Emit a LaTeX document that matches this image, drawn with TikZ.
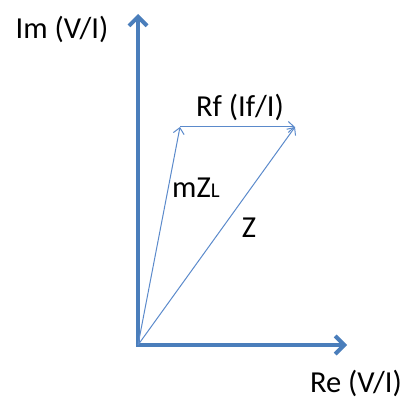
\documentclass[tikz,border=0pt]{standalone}
\usepackage{fontspec}
\setmainfont{Carlito}
\usetikzlibrary{arrows.meta}
\definecolor{axblue}{HTML}{4A7EBB}
\definecolor{vecblue}{HTML}{5B8ACB}
\tikzset{
  axis/.style={draw=axblue, line width=4.2pt, -{Straight Barb[length=9pt,width=18pt,line width=4pt]}},
  vec/.style={draw=vecblue, line width=1pt, -{Straight Barb[length=6pt,width=11pt,line width=1pt]}},
  lbl/.style={font=\fontsize{30.5}{34}\selectfont, inner sep=0pt, text=black}
}
\begin{document}
\begin{tikzpicture}[x=1pt,y=-1pt]
\useasboundingbox (0,0) rectangle (404,401);
\coordinate (O) at (138,345);
\coordinate (Ytip) at (138,14);
\coordinate (Xtip) at (347,345);
\coordinate (A) at (180,127);
\coordinate (B) at (295,127);
\draw[axis] (O) -- (Ytip);
\draw[axis] ([xshift=-2.1pt]O) -- (Xtip);
\draw[vec] (O) -- (A);
\draw[vec] (A) -- (B);
\draw[vec] (O) -- (B);
\node[lbl] (im) at (62,29) {Im (V/I)};
\node[lbl] (re) at (356,383) {Re (V/I)};
\node[lbl] (rf) at (240,107) {Rf (If/I)};
\node[lbl, anchor=base west] (mzl) at (172,197) {mZ{\fontsize{21}{24}\selectfont L}};
\node[lbl, anchor=base] (z) at (249,237) {Z};
\end{tikzpicture}
\end{document}
